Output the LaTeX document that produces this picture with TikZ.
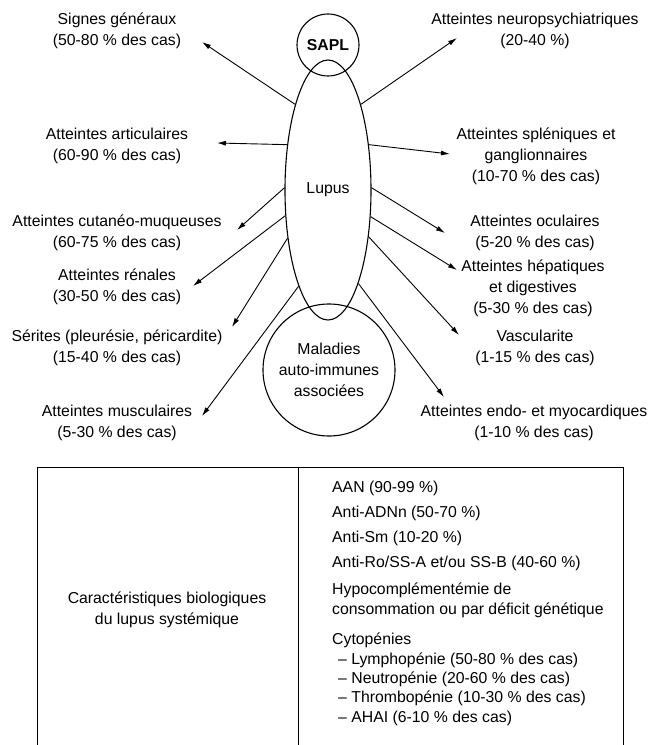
\documentclass[tikz,border=0pt]{standalone}
\usepackage{fontspec}
\setmainfont{Liberation Sans}
\usetikzlibrary{arrows.meta,shapes.geometric}
\begin{document}
\begin{tikzpicture}[x=1pt,y=-1pt,
  every node/.style={font=\fontsize{15.8}{21}\selectfont},
  lbl/.style={align=center, inner sep=0pt},
  row/.style={anchor=west, inner sep=0pt},
  organ/.style={draw, line width=1.1pt, inner sep=0pt},
  link/.style={line width=0.9pt, -{Latex[length=9pt,width=5pt]}},
  frame/.style={line width=1pt},
]
\useasboundingbox (0,0) rectangle (651,745);
\fill[white] (0,0) rectangle (651,745);

% central shapes
\node[organ, circle, minimum size=62pt] (sapl) at (328,45) {\textbf{SAPL}};
\node[organ, ellipse, minimum width=86pt, minimum height=260pt] (lupus) at (328,190) {Lupus};
\node[organ, circle, minimum size=132pt, align=center] (mai) at (329,370)
  {Maladies\\auto-immunes\\associées};

% left-hand manifestations
\node[lbl] (signes)  at (117,31)    {Signes généraux\\(50-80 \% des cas)};
\node[lbl] (artic)   at (117,145.5) {Atteintes articulaires\\(60-90 \% des cas)};
\node[lbl] (cutan)   at (117,232.5) {Atteintes cutanéo-muqueuses\\(60-75 \% des cas)};
\node[lbl] (renal)   at (117,287)   {Atteintes rénales\\(30-50 \% des cas)};
\node[lbl] (serites) at (117,348)   {Sérites (pleurésie, péricardite)\\(15-40 \% des cas)};
\node[lbl] (muscu)   at (117,423)   {Atteintes musculaires\\(5-30 \% des cas)};

% right-hand manifestations
\node[lbl] (neuro)  at (535,31)  {Atteintes neuropsychiatriques\\(20-40 \%)};
\node[lbl] (splen)  at (536,156) {Atteintes spléniques et\\ganglionnaires\\(10-70 \% des cas)};
\node[lbl] (ocul)   at (535,232.5) {Atteintes oculaires\\(5-20 \% des cas)};
\node[lbl] (hepat)  at (533,288) {Atteintes hépatiques\\et digestives\\(5-30 \% des cas)};
\node[lbl] (vasc)   at (535,348) {Vascularite\\(1-15 \% des cas)};
\node[lbl] (endo)   at (534,423) {Atteintes endo- et myocardiques\\(1-10 \% des cas)};

% arrow tips next to the labels
\coordinate (tSignes)  at (202,42);
\coordinate (tArtic)   at (217,143);
\coordinate (tCutan)   at (237,230);
\coordinate (tRenal)   at (193,286);
\coordinate (tSerites) at (232,327);
\coordinate (tMuscu)   at (202,416);
\coordinate (tNeuro)   at (457,38);
\coordinate (tSplen)   at (450,154);
\coordinate (tOcul)    at (445,233);
\coordinate (tHepat)   at (457,270);
\coordinate (tVasc)    at (459,335);
\coordinate (tEndo)    at (444,397);

\draw[link] (lupus.111) -- (tSignes);
\draw[link] (lupus.132) -- (tArtic);
\draw[link] (lupus.177) -- (tCutan);
\draw[link] (lupus.211) -- (tRenal);
\draw[link] (lupus.230) -- (tSerites);
\draw[link] (lupus.253) -- (tMuscu);
\draw[link] (lupus.69)  -- (tNeuro);
\draw[link] (lupus.48)  -- (tSplen);
\draw[link] (lupus.3)   -- (tOcul);
\draw[link] (lupus.-32) -- (tHepat);
\draw[link] (lupus.-49) -- (tVasc);
\draw[link] (lupus.-72) -- (tEndo);

% biological table
\draw[frame] (37,745) -- (37,467) -- (623,467) -- (623,745);
\draw[frame] (298,467) -- (298,745);

\node[lbl] (bio) at (167,610) {Caractéristiques biologiques\\du lupus systémique};

\node[row] (aan)   at (332,488) {AAN (90-99 \%)};
\node[row] (adn)   at (332,513) {Anti-ADNn (50-70 \%)};
\node[row] (sm)    at (332,538) {Anti-Sm (10-20 \%)};
\node[row] (ro)    at (332,563) {Anti-Ro/SS-A et/ou SS-B (40-60 \%)};
\node[row] (hypo1) at (332,590) {Hypocomplémentémie de};
\node[row] (hypo2) at (332,610) {consommation ou par déficit génétique};
\node[row] (cyto)  at (332,640) {Cytopénies};
\node[row] (lym)   at (338,660) {– Lymphopénie (50-80 \% des cas)};
\node[row] (neu)   at (338,679) {– Neutropénie (20-60 \% des cas)};
\node[row] (thr)   at (338,698) {– Thrombopénie (10-30 \% des cas)};
\node[row] (aha)   at (338,718) {– AHAI (6-10 \% des cas)};
\end{tikzpicture}
\end{document}
